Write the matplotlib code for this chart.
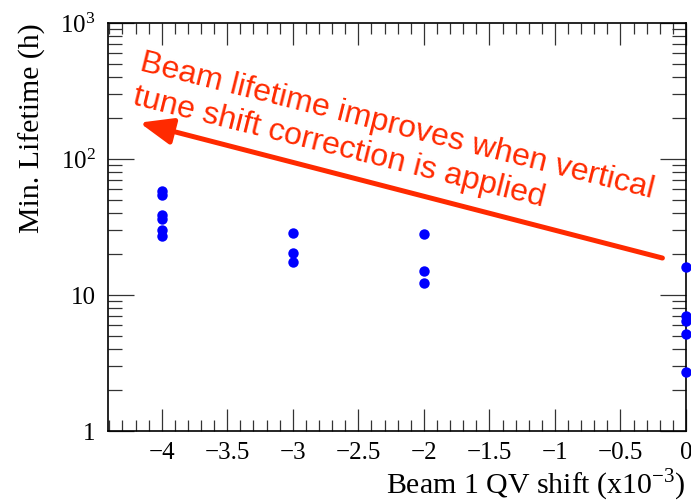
import numpy as np
import matplotlib
matplotlib.use("Agg")
import matplotlib.pyplot as plt
from matplotlib.ticker import MultipleLocator, LogLocator, NullFormatter

# beam 1 QV shift (x1e-3) and measured minimum lifetimes (h)
shift_m4 = [58, 54, 39, 36, 30, 27]
shift_m3 = [28.6, 20.4, 17.5]
shift_m2 = [28, 15, 12.2]
shift_0 = [16.1, 7.0, 6.4, 5.2, 2.7]

shifts = [-4] * len(shift_m4) + [-3] * len(shift_m3) + [-2] * len(shift_m2) + [0] * len(shift_0)
lifetimes = shift_m4 + shift_m3 + shift_m2 + shift_0

# arrow from (x, lifetime) start to tip
arrow_start = (-0.18, 18.7)
arrow_tip = (-4.17, 185)

plt.rcParams['font.family'] = ['Liberation Serif', 'DejaVu Serif']
plt.rcParams['mathtext.fontset'] = 'custom'
plt.rcParams['mathtext.rm'] = 'Liberation Serif'

fig = plt.figure(figsize=(6.91, 5.04), dpi=100)
ax = fig.add_axes([108 / 691, 1 - 431 / 504, 578 / 691, 408 / 504])

ax.plot(shifts, lifetimes, 'o', color='#0000ff', markersize=7.5, markeredgewidth=0, clip_on=False, zorder=5)

ax.set_yscale('log')
ax.set_ylim(1, 1000)
ax.set_xlim(-4.41, 0)

ax.xaxis.set_minor_locator(MultipleLocator(0.1))
xt = np.arange(-4, 0.01, 0.5)
ax.set_xticks(xt)
ax.set_xticklabels(['\u2212' + ('%g' % abs(v)) if v < 0 else '0' for v in xt])

ax.yaxis.set_minor_locator(LogLocator(base=10, subs=np.arange(2, 10)))
ax.yaxis.set_minor_formatter(NullFormatter())
ax.set_yticks([1, 10, 100, 1000])
ax.set_yticklabels(['1', '10', r'$\mathregular{10^2}$', r'$\mathregular{10^3}$'])

ax.tick_params(which='both', direction='in', top=True, right=True, width=0.9, color='#333333', labelsize=18)
ax.tick_params(axis='x', which='major', length=16, pad=8)
ax.tick_params(axis='x', which='minor', length=8)
ax.tick_params(axis='y', which='major', length=19, pad=9)
ax.tick_params(axis='y', which='minor', length=10)
for s in ax.spines.values():
    s.set_linewidth(1.2)

ax.set_xlabel(r'Beam 1 QV shift (x10$^{\mathregular{-3}}$)', fontsize=21.5, loc='right', labelpad=2)
ax.set_ylabel('Min. Lifetime (h)', fontsize=21.5, loc='top', labelpad=10)

red = '#ff2a00'
ax.annotate('', xy=arrow_tip, xytext=arrow_start,
            arrowprops=dict(arrowstyle='-|>,head_length=1.0,head_width=0.4', lw=3.6,
                            color=red, mutation_scale=20, shrinkA=0, shrinkB=0))

ax.text(0.0536, 0.8848, 'Beam lifetime improves when vertical', transform=ax.transAxes,
        rotation=-14.0, rotation_mode='anchor', ha='left', va='baseline',
        fontsize=23, color=red, family=['Liberation Sans', 'DejaVu Sans'])
ax.text(0.0415, 0.8015, 'tune shift correction is applied', transform=ax.transAxes,
        rotation=-14.0, rotation_mode='anchor', ha='left', va='baseline',
        fontsize=23, color=red, family=['Liberation Sans', 'DejaVu Sans'])

fig.savefig('out.png', dpi=100)
